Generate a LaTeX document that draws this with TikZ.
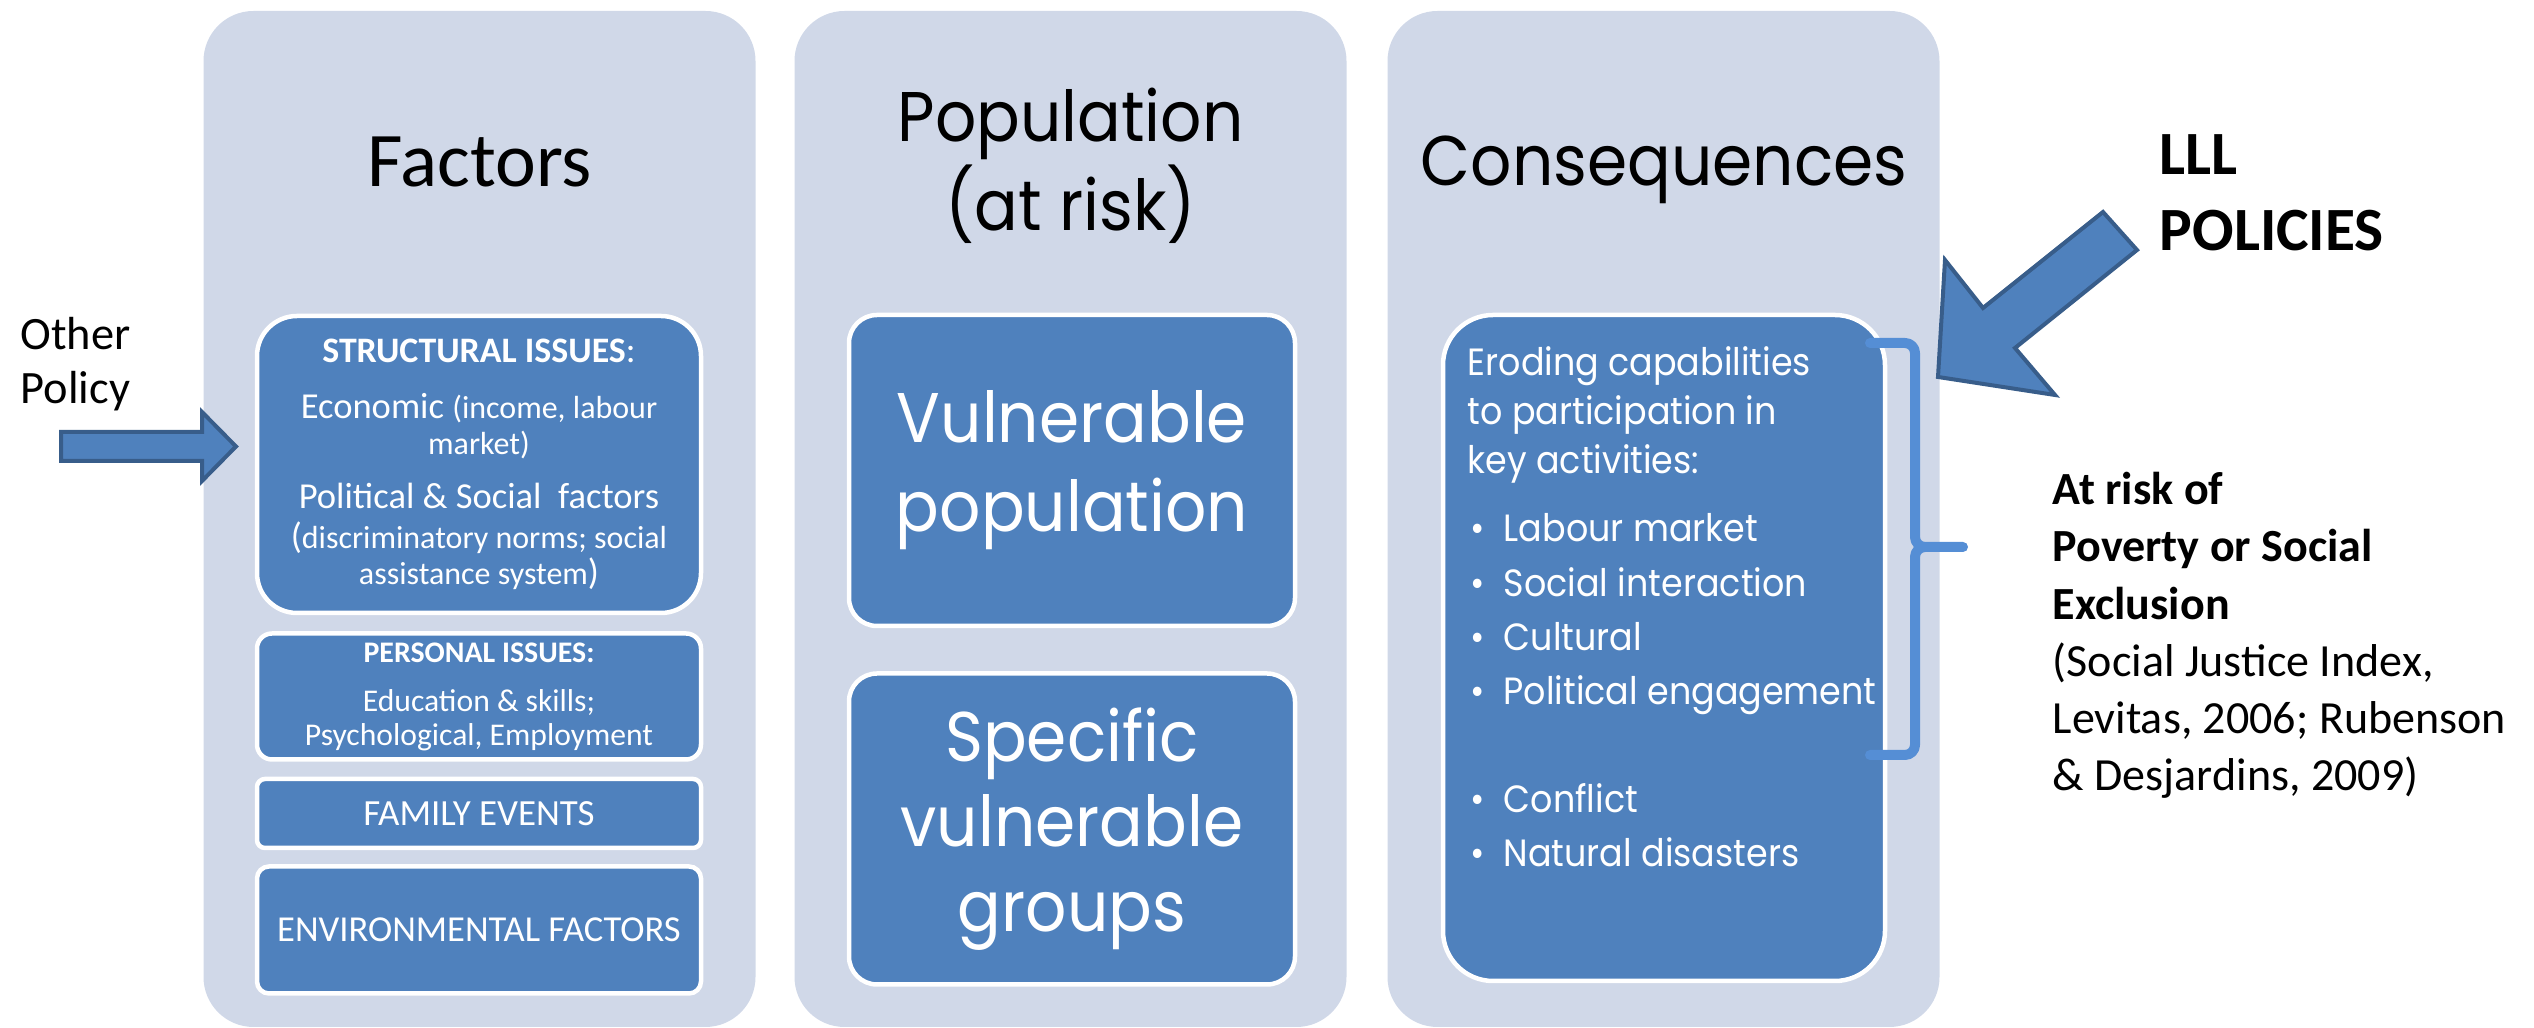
\documentclass[tikz,border=0pt]{standalone}
\usepackage{fontspec}
\setmainfont{Carlito}
\newfontfamily\gothic[FakeStretch=0.92]{Poppins}
\usetikzlibrary{positioning}
\definecolor{panelgray}{HTML}{D0D8E8}
\definecolor{boxblue}{HTML}{4F81BD}
\definecolor{arrowedge}{HTML}{385D8A}
\definecolor{bracecol}{HTML}{558ED5}
\setlength{\lineskiplimit}{-20pt}
\newcommand{\fs}[2]{\fontsize{#1}{#2}\selectfont}
\newcommand{\blt}{\makebox[3.6mm][l]{\hspace{0.3mm}\textbullet}}

\begin{document}
\begin{tikzpicture}[x=0.1mm, y=-0.1mm,
    panel/.style={fill=panelgray, rounded corners=5mm, minimum width=55.2mm, minimum height=101.6mm, inner sep=0pt},
    bluebox/.style={fill=boxblue, draw=white, line width=0.45mm, text=white, align=center, inner sep=0pt, minimum width=44.4mm},
    blockarrow/.style={fill=boxblue, draw=arrowedge, line width=0.4mm, line join=miter},
    curlybrace/.style={draw=bracecol, line width=1mm, line cap=round, line join=round},
    title/.style={anchor=base, align=center, inner sep=0pt},
    sidetext/.style={anchor=base west, align=left, inner sep=0pt}]
\useasboundingbox (0,0) rectangle (2534,1028);

% three columns
\node[panel] (factors) at (479.5,519) {};
\node[panel] (population) at (1070.5,519) {};
\node[panel] (consequences) at (1663.5,519) {};

% titles (base = last line)
\node[title, font=\fs{22}{26}] (factorsTitle) at (479.5,187) {Factors};
\node[title, font=\gothic\fs{20}{25.6}] (popTitle) at (1070.5,231) {Population\\(at risk)};
\node[title, font=\gothic\fs{20}{25.6}] (consTitle) at (1664,186) {Consequences};

% factors
\node[bluebox, minimum height=29.7mm, rounded corners=4mm, font=\fs{10.4}{10.24}] (structural) at (479,464.5)
  {{\bfseries\fs{10.2}{10.24}STRUCTURAL ISSUES}:\\[5.7pt]
   Economic {\fs{9.1}{10.24}(income, labour}\\
   {\fs{9.1}{10.24}market)}\\[5.1pt]
   Political \& Social\ \ factors\\[1.1pt]
   ({\fs{9.1}{10.24}discriminatory norms; social}\\
   {\fs{9.1}{10.24}assistance system})};
\node[bluebox, minimum height=12.6mm, rounded corners=1.5mm, font=\fs{9}{9.67}, below=1.6mm of structural] (personal)
  {{\bfseries\fs{8.5}{9.67}PERSONAL ISSUES:}\\[4.3pt]
   Education \& skills;\\
   Psychological, Employment};
\node[bluebox, minimum height=6.9mm, rounded corners=0.8mm, font=\fs{10.5}{12}, below=1.5mm of personal] (family) {FAMILY EVENTS};
\node[bluebox, minimum height=12.7mm, rounded corners=1.2mm, font=\fs{10.4}{12}, below=1.4mm of family] (environmental) {ENVIRONMENTAL FACTORS};

% population
\node[bluebox, minimum width=44.6mm, minimum height=31.1mm, rounded corners=2.8mm, font=\gothic\fs{20}{25.3}] (vulnerable) at (1072,470.5) {Vulnerable\\population};
\node[bluebox, minimum width=44.6mm, minimum height=31.1mm, rounded corners=2.8mm, font=\gothic\fs{20}{24.2}, below=4.3mm of vulnerable] (specific) {Specific\\vulnerable\\groups};

% consequences
\node[bluebox, minimum width=44.2mm, minimum height=66.6mm, rounded corners=5mm] (eroding) at (1664,648) {};
\node[sidetext, text=white, font=\gothic\fs{10.8}{13.9}] (erodingText) at (1467,867)
  {Eroding capabilities\\to participation in\\key activities:\\[5.7pt]
   \blt Labour market\\[1.5pt]
   \blt Social interaction\\[1.5pt]
   \blt Cultural\\[1.5pt]
   \blt Political engagement\\[17pt]
   \blt Conflict\\[1.5pt]
   \blt Natural disasters};

% brace
\draw[curlybrace] (1870,343) -- (1905,343) to[out=0,in=90] (1915,353) -- (1915,537) to[out=-90,in=180] (1925,547) -- (1963,547);
\draw[curlybrace] (1925,547) to[out=180,in=90] (1915,557) -- (1915,745) to[out=-90,in=0] (1905,755) -- (1870,755);

% arrows
\draw[blockarrow] (61,432) -- (202,432) -- (202,412) -- (236,446.5) -- (202,481) -- (202,461) -- (61,461) -- cycle;
\draw[blockarrow] (1938,377) -- (1945,260) -- (1983,308) -- (2103,212) -- (2137,250) -- (2015,348) -- (2055,395) -- cycle;

% side texts
\node[sidetext, font=\fs{13.2}{15.6}] (otherPolicy) at (20,404) {Other\\Policy};
\node[sidetext, font=\bfseries\fs{17.5}{21.9}] (lll) at (2159,251) {LLL\\POLICIES};
\node[sidetext, font=\fs{13.1}{16.3}] (atRisk) at (2052,791)
  {\textbf{At risk of}\\\textbf{Poverty or Social}\\\textbf{Exclusion}\\(Social Justice Index,\\Levitas, 2006; Rubenson\\\& Desjardins, 2009)};
\end{tikzpicture}
\end{document}
